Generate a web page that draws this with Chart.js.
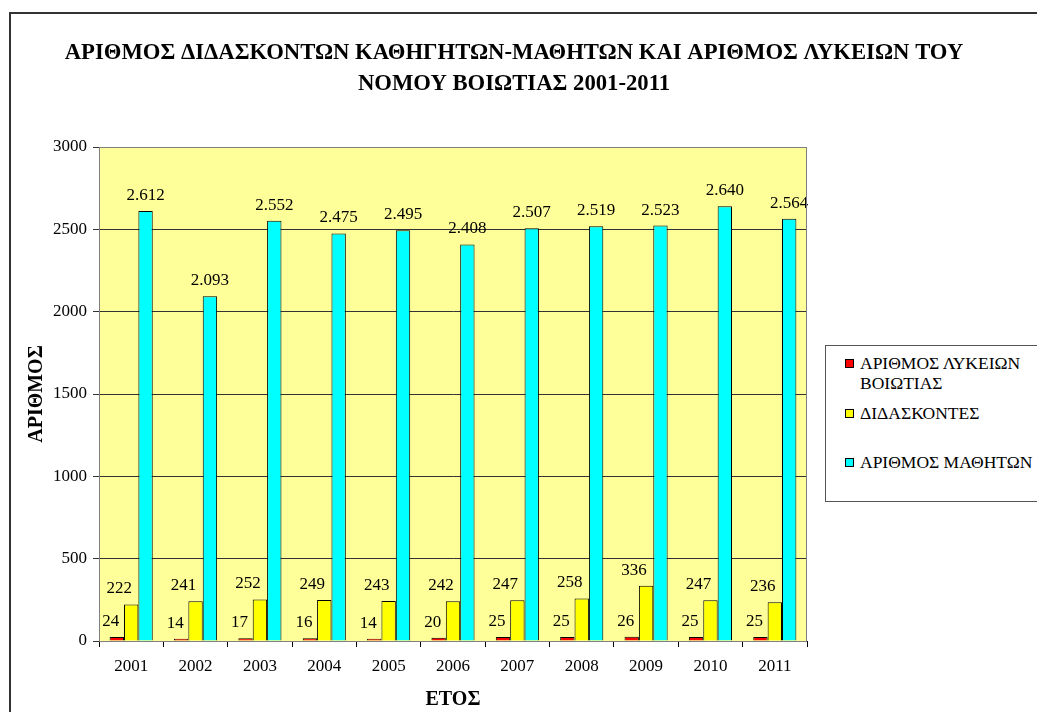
<!DOCTYPE html>
<html>
<head>
<meta charset="utf-8">
<script src="https://cdn.jsdelivr.net/npm/chart.js@4.4.1/dist/chart.umd.min.js"></script>
<style>
  body { margin: 0; background: #fff; overflow: hidden; font-family: "Liberation Serif", "Times New Roman", serif; }
  #wrap { position: relative; width: 1037px; height: 712px; }
  #frame { position: absolute; left: 9px; top: 12px; width: 1100px; height: 800px; border: 2px solid #333; box-sizing: border-box; }
  canvas { position: absolute; left: 0; top: 0; }
  #legend { position: absolute; left: 825px; top: 345px; width: 260px; height: 157px; border: 1px solid #555; border-right: none; box-sizing: border-box; background: #fff; font-size: 17.5px; color: #000; }
  .item { position: absolute; left: 19px; line-height: 20px; }
  .sw { position: absolute; left: 0; top: 6px; width: 7px; height: 7px; border: 1px solid #000; }
  .txt { margin-left: 15px; white-space: nowrap; }
</style>
</head>
<body>
<div id="wrap">
  <div id="frame"></div>
  <canvas id="chart" width="1037" height="712"></canvas>
  <div id="legend"></div>
</div>
<script>
// Data
const years = ["2001", "2002", "2003", "2004", "2005", "2006", "2007", "2008", "2009", "2010", "2011"];
const lykeia = [24, 14, 17, 16, 14, 20, 25, 25, 26, 25, 25];
const didaskontes = [222, 241, 252, 249, 243, 242, 247, 258, 336, 247, 236];
const mathites = [2612, 2093, 2552, 2475, 2495, 2408, 2507, 2519, 2523, 2640, 2564];
const seriesNames = [["ΑΡΙΘΜΟΣ ΛΥΚΕΙΩΝ", "ΒΟΙΩΤΙΑΣ"], ["ΔΙΔΑΣΚΟΝΤΕΣ"], ["ΑΡΙΘΜΟΣ ΜΑΘΗΤΩΝ"]];
const yTicks = [0, 500, 1000, 1500, 2000, 2500, 3000];

const colors = ["#FF0000", "#FFFF00", "#00FFFF"];
const labelShift = [-6, -12, 0]; // labels sit slightly left of the bars in the original
const serif = '"Liberation Serif", "Times New Roman", serif';

// Greek style thousands separator (2.612)
function fmt(n) {
  return String(n).replace(/\B(?=(\d{3})+(?!\d))/g, ".");
}

// Yellow plot area + grey border
const plotBg = {
  id: "plotBg",
  beforeDraw(chart) {
    const { ctx, chartArea: a } = chart;
    ctx.save();
    ctx.fillStyle = "#FFFF99";
    ctx.fillRect(a.left, a.top, a.right - a.left, a.bottom - a.top);
    ctx.restore();
  },
  afterDraw(chart) {
    const { ctx, chartArea: a } = chart;
    ctx.save();
    ctx.strokeStyle = "#808080";
    ctx.lineWidth = 1;
    ctx.strokeRect(a.left + 0.5, a.top + 0.5, a.right - a.left - 1, a.bottom - a.top);
    ctx.restore();
  }
};

// Two line title
const titlePlugin = {
  id: "titlePlugin",
  afterDraw(chart) {
    const ctx = chart.ctx;
    ctx.save();
    ctx.fillStyle = "#000";
    ctx.font = "bold 22.7px " + serif;
    ctx.textAlign = "center";
    ctx.textBaseline = "middle";
    ctx.fillText("ΑΡΙΘΜΟΣ ΔΙΔΑΣΚΟΝΤΩΝ ΚΑΘΗΓΗΤΩΝ-ΜΑΘΗΤΩΝ ΚΑΙ ΑΡΙΘΜΟΣ ΛΥΚΕΙΩΝ ΤΟΥ", 514, 53);
    ctx.fillText("ΝΟΜΟΥ ΒΟΙΩΤΙΑΣ 2001-2011", 514, 84);
    ctx.restore();
  }
};

// Value labels above bars
const valueLabels = {
  id: "valueLabels",
  afterDatasetsDraw(chart) {
    const ctx = chart.ctx;
    ctx.save();
    ctx.fillStyle = "#000";
    ctx.font = "17px " + serif;
    ctx.textAlign = "center";
    ctx.textBaseline = "bottom";
    chart.data.datasets.forEach((ds, i) => {
      chart.getDatasetMeta(i).data.forEach((bar, j) => {
        ctx.fillText(fmt(ds.data[j]), bar.x + labelShift[i], bar.y - 7);
      });
    });
    ctx.restore();
  }
};

new Chart(document.getElementById("chart"), {
  type: "bar",
  data: {
    labels: years,
    datasets: [
      { label: seriesNames[0].join(" "), data: lykeia, backgroundColor: colors[0] },
      { label: seriesNames[1].join(" "), data: didaskontes, backgroundColor: colors[1] },
      { label: seriesNames[2].join(" "), data: mathites, backgroundColor: colors[2] }
    ].map((d) => Object.assign(d, {
      borderColor: "#000",
      borderWidth: 1,
      borderSkipped: "bottom",
      categoryPercentage: 0.67,
      barPercentage: 1
    }))
  },
  options: {
    responsive: false,
    animation: false,
    layout: { padding: { top: 147, right: 230, bottom: 0, left: 0 } },
    plugins: {
      legend: { display: false },
      tooltip: { enabled: false }
    },
    scales: {
      x: {
        afterFit(scale) { scale.height = 71; },
        grid: { drawOnChartArea: false, color: "#000", tickLength: 6 },
        border: { color: "#000" },
        ticks: { color: "#000", font: { family: serif, size: 17 }, padding: 9 },
        title: { display: true, text: "ΕΤΟΣ", color: "#000", font: { family: serif, size: 20, weight: "bold" }, padding: { top: 0, bottom: 0 } }
      },
      y: {
        min: 0,
        max: 3000,
        afterFit(scale) { scale.width = 99; },
        afterBuildTicks(scale) { scale.ticks = yTicks.map((v) => ({ value: v })); },
        grid: { color: "#333", tickLength: 6 },
        border: { color: "#808080" },
        ticks: { color: "#000", font: { family: serif, size: 17 }, padding: 6, callback: (v) => String(v) },
        title: { display: true, text: "ΑΡΙΘΜΟΣ", color: "#000", font: { family: serif, size: 20, weight: "bold" }, padding: { top: 25, bottom: 0 } }
      }
    }
  },
  plugins: [plotBg, valueLabels, titlePlugin]
});

// Legend box on the right (text wraps like the original)
const legend = document.getElementById("legend");
const itemTops = [7, 57, 106];
seriesNames.forEach((lines, i) => {
  const item = document.createElement("div");
  item.className = "item";
  item.style.top = itemTops[i] + "px";
  item.innerHTML = '<span class="sw" style="background:' + colors[i] + '"></span><div class="txt">' + lines.join("<br>") + "</div>";
  legend.appendChild(item);
});
</script>
</body>
</html>
